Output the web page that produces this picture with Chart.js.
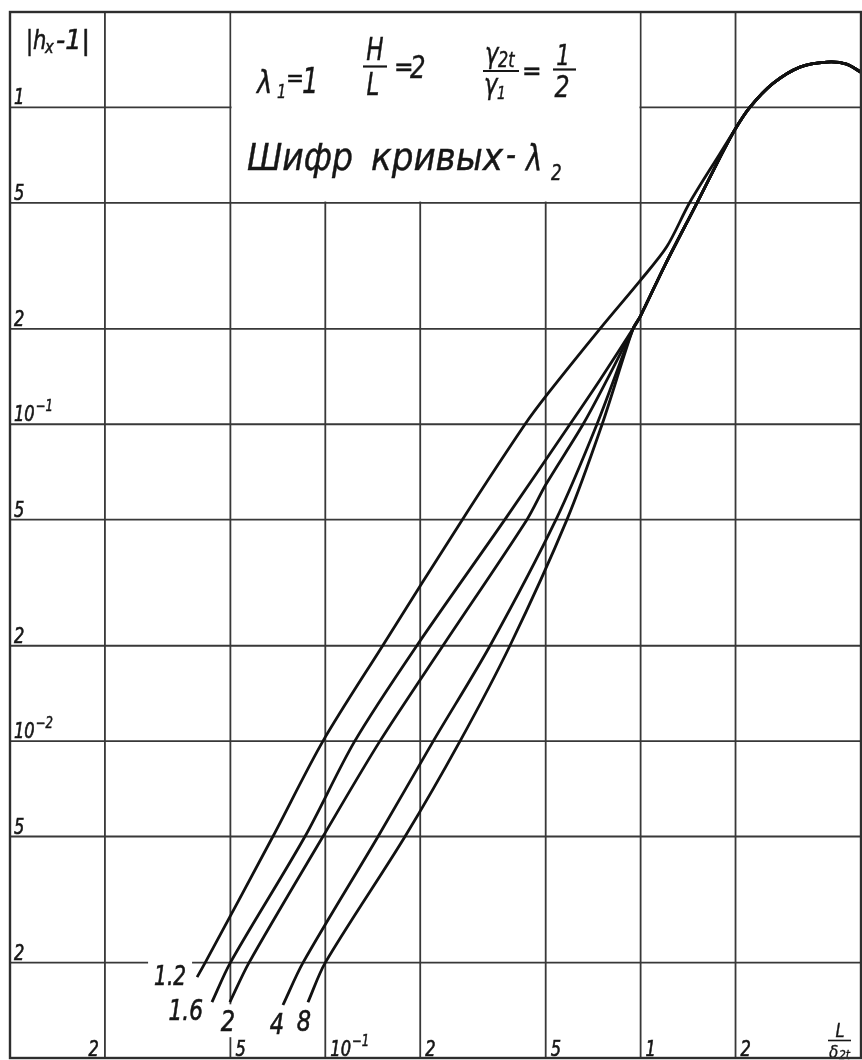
<!DOCTYPE html>
<html>
<head>
<meta charset="utf-8">
<script src="https://cdn.jsdelivr.net/npm/chart.js@4/dist/chart.umd.min.js"></script>
<style>
  html, body { margin: 0; padding: 0; background: #fff; }
  canvas { display: block; }
</style>
</head>
<body>
<canvas id="chart" width="862" height="1060"></canvas>
<script>
// Curve code: λ2
const curveCodes = ['1.2', '1.6', '2', '4', '8'];

// Lower branches, |h_x - 1| against L/δ2t, one pair of arrays per λ2
const lam12X = [0.0392, 0.0416, 0.0682, 0.0983, 0.152, 0.272, 0.43, 0.505, 0.743, 1.0, 1.21, 1.43, 1.79];
const lam12Y = [0.0018, 0.002, 0.005, 0.01, 0.02, 0.05, 0.1, 0.124, 0.2, 0.285, 0.363, 0.5, 0.718];
const lam16X = [0.0437, 0.05, 0.0862, 0.124, 0.195, 0.371, 0.597, 0.743, 0.946];
const lam16Y = [0.0015, 0.002, 0.005, 0.01, 0.02, 0.05, 0.1, 0.138, 0.2];
const lam2X = [0.0498, 0.0573, 0.0983, 0.149, 0.236, 0.436, 0.5, 0.657, 0.782, 0.946];
const lam2Y = [0.0015, 0.002, 0.005, 0.01, 0.02, 0.05, 0.0644, 0.1, 0.138, 0.2];
const lam4X = [0.0734, 0.085, 0.147, 0.22, 0.333, 0.539, 0.727, 0.946];
const lam4Y = [0.00147, 0.002, 0.005, 0.01, 0.02, 0.05, 0.1, 0.2];
const lam8X = [0.0881, 0.1, 0.179, 0.2675, 0.385, 0.584, 0.755, 0.946];
const lam8Y = [0.0015, 0.002, 0.005, 0.01, 0.02, 0.05, 0.1, 0.2];

// Shared stretch of λ2 = 1.6 … 8 once they meet
const bundleX = [1.0, 1.195, 1.51, 1.786];
const bundleY = [0.22, 0.318, 0.5, 0.695];

// Common upper part of all curves (maximum near L/δ2t ≈ 4)
const commonX = [1.99, 2.22, 2.63, 3.2, 3.9, 4.5, 5.0];
const commonY = [0.85, 1.0, 1.19, 1.34, 1.39, 1.37, 1.29];

// Grid lines and their labels
const xGrid = [0.02, 0.05, 0.1, 0.2, 0.5, 1, 2];
const xTickText = ['2', '5', '10^−1', '2', '5', '1', '2'];
const yGrid = [0.002, 0.005, 0.01, 0.02, 0.05, 0.1, 0.2, 0.5, 1];
const yTickText = ['2', '5', '10^−2', '2', '5', '10^−1', '2', '5', '1'];

const FONT = "'Liberation Sans Narrow','DejaVu Sans Condensed','Liberation Sans',sans-serif";
const font = (sz) => `italic ${sz}px ${FONT}`;
const INK = '#161616';
const NARROW = 0.86;

const pts = (xs, ys) => xs.map((v, i) => ({ x: v, y: ys[i] }));
const seriesData = [
  pts(lam12X, lam12Y).concat(pts(commonX, commonY)),
  pts(lam16X, lam16Y).concat(pts(bundleX, bundleY), pts(commonX, commonY)),
  pts(lam2X, lam2Y).concat(pts(bundleX, bundleY), pts(commonX, commonY)),
  pts(lam4X, lam4Y).concat(pts(bundleX, bundleY), pts(commonX, commonY)),
  pts(lam8X, lam8Y).concat(pts(bundleX, bundleY), pts(commonX, commonY)),
];

// Where each curve code is written, relative to the curve's lower end
const codeLabelStyle = [
  { dx: -11, dy: 8, align: 'right', size: 26 },
  { dx: -9, dy: 18, align: 'right', size: 28 },
  { dx: -2, dy: 29, align: 'center', size: 29 },
  { dx: -6, dy: 29, align: 'center', size: 29 },
  { dx: -4, dy: 29, align: 'center', size: 29 },
];

// text with a horizontal squeeze factor (or fitted to a given width) and a slight pen weight
function penText(ctx, txt, x, y, size, opt = {}) {
  ctx.font = font(size);
  const w = ctx.measureText(txt).width;
  const sx = opt.width ? opt.width / w : (opt.sx || 1);
  const ww = w * sx;
  let left = x;
  if (opt.align === 'right') left = x - ww;
  else if (opt.align === 'center') left = x - ww / 2;
  ctx.save();
  ctx.translate(left, y);
  ctx.scale(sx, 1);
  ctx.textAlign = 'left';
  ctx.textBaseline = 'alphabetic';
  ctx.fillText(txt, 0, 0);
  if (opt.weight) {
    ctx.lineWidth = opt.weight;
    ctx.strokeStyle = ctx.fillStyle;
    ctx.strokeText(txt, 0, 0);
  }
  ctx.restore();
  return ww;
}

function powWidth(ctx, txt, size) {
  const [b, e] = txt.split('^');
  ctx.font = font(size);
  let w = ctx.measureText(b).width;
  if (e) { ctx.font = font(size * 0.72); w += ctx.measureText(e).width + 1; }
  return w * NARROW;
}

function drawPow(ctx, txt, x, y, size) {
  const [b, e] = txt.split('^');
  const wb = penText(ctx, b, x, y, size, { sx: NARROW, weight: 0.6 });
  if (e) penText(ctx, e, x + wb + 1, y - size * 0.5, size * 0.72, { sx: NARROW, weight: 0.5 });
}

function drawTitle(ctx) {
  ctx.fillStyle = INK;
  ctx.strokeStyle = INK;
  const w = 0.4;
  // λ1 = 1
  penText(ctx, 'λ', 257, 93, 32, { sx: 0.9, weight: w });
  penText(ctx, '1', 277, 98, 19, { sx: 0.85, weight: w });
  penText(ctx, '=', 286, 86, 24, { weight: w });
  penText(ctx, '1', 302, 93, 36, { sx: 0.8, weight: w });
  // H / L = 2
  ctx.lineWidth = 2.2;
  penText(ctx, 'H', 375, 60, 32, { align: 'center', sx: 0.8, weight: w });
  penText(ctx, 'L', 373, 95, 32, { align: 'center', sx: 0.8, weight: w });
  ctx.beginPath(); ctx.moveTo(363, 66.5); ctx.lineTo(387, 66.5); ctx.stroke();
  penText(ctx, '=', 394, 76, 26, { weight: w });
  penText(ctx, '2', 410, 78, 32, { sx: 0.85, weight: w });
  // γ2t / γ1 = 1/2
  penText(ctx, 'γ', 485, 63, 28, { sx: 0.9, weight: w });
  penText(ctx, '2t', 498, 67, 21, { sx: 0.85, weight: w });
  ctx.lineWidth = 2.2;
  ctx.beginPath(); ctx.moveTo(483, 71); ctx.lineTo(519, 71); ctx.stroke();
  penText(ctx, 'γ', 484, 94, 28, { sx: 0.9, weight: w });
  penText(ctx, '1', 497, 99, 18, { sx: 0.85, weight: w });
  penText(ctx, '=', 522, 80, 26, { weight: w });
  penText(ctx, '1', 563, 65, 28, { align: 'center', sx: 0.85, weight: w });
  penText(ctx, '2', 562, 97, 31, { align: 'center', sx: 0.85, weight: w });
  ctx.lineWidth = 2.2;
  ctx.beginPath(); ctx.moveTo(553, 69.5); ctx.lineTo(576, 69.5); ctx.stroke();
  // Шифр кривых – λ2
  penText(ctx, 'Шифр', 247, 170, 38, { width: 106, weight: w });
  penText(ctx, 'кривых', 371, 170, 38, { width: 132, weight: w });
  penText(ctx, '-', 506, 166, 34, { width: 10, weight: w });
  penText(ctx, 'λ', 526, 170, 36, { sx: 0.85, weight: w });
  penText(ctx, '2', 551, 180, 22, { sx: 0.85, weight: w });
}

const sheet = {
  id: 'sheet',
  beforeDatasetsDraw(chart) {
    const { ctx, chartArea: a, scales: { x, y } } = chart;
    ctx.save();
    ctx.lineCap = 'butt';
    ctx.strokeStyle = '#383838';
    ctx.lineWidth = 1.8;
    ctx.beginPath();
    xGrid.forEach(v => {
      const px = x.getPixelForValue(v);
      ctx.moveTo(px, a.top); ctx.lineTo(px, a.bottom);
    });
    yGrid.forEach(v => {
      const py = y.getPixelForValue(v);
      ctx.moveTo(a.left, py); ctx.lineTo(a.right, py);
    });
    ctx.stroke();

    // blank field for the parameter note
    const bl = x.getPixelForValue(0.05), br = x.getPixelForValue(1), bb = y.getPixelForValue(0.5);
    ctx.fillStyle = '#fff';
    ctx.fillRect(bl + 1.2, a.top + 1, br - bl - 2.4, bb - a.top - 2.2);

    // curve codes at the lower ends
    seriesData.forEach((d, i) => {
      const st = codeLabelStyle[i];
      const px = x.getPixelForValue(d[0].x) + st.dx;
      const py = y.getPixelForValue(d[0].y) + st.dy;
      ctx.font = font(st.size);
      const w = ctx.measureText(curveCodes[i]).width * NARROW;
      const left = st.align === 'right' ? px - w : px - w / 2;
      ctx.fillStyle = '#fff';
      ctx.fillRect(left - 6, py - st.size * 0.72 - 6, w + 12, st.size * 0.72 + 12);
      ctx.fillStyle = INK;
      penText(ctx, curveCodes[i], left, py, st.size, { sx: NARROW, weight: 0.6 });
    });

    // tick labels written inside the grid
    ctx.fillStyle = INK;
    yGrid.forEach((v, i) => {
      drawPow(ctx, yTickText[i], a.left + 4, y.getPixelForValue(v) - 3, 21);
    });
    xGrid.forEach((v, i) => {
      const px = x.getPixelForValue(v);
      const w = powWidth(ctx, xTickText[i], 21);
      const left = i === 0 ? px - 6 - w : px + 5;
      drawPow(ctx, xTickText[i], left, a.bottom - 2, 21);
    });

    // axis names
    penText(ctx, '|h', 26, 49, 26, { sx: 0.9, weight: 0.5 });
    penText(ctx, 'x', 45, 53, 18, { sx: 0.9, weight: 0.5 });
    penText(ctx, '-1|', 56, 49, 26, { width: 34, weight: 0.5 });
    penText(ctx, 'L', 840, 1037, 20, { align: 'center', sx: 0.9, weight: 0.4 });
    ctx.strokeStyle = INK; ctx.lineWidth = 1.6;
    ctx.beginPath(); ctx.moveTo(828, 1040.5); ctx.lineTo(851, 1040.5); ctx.stroke();
    penText(ctx, 'δ', 829, 1058, 17, { weight: 0.3 });
    penText(ctx, '2t', 839, 1059, 12, { weight: 0.3 });

    drawTitle(ctx);
    ctx.restore();
  },
  afterDatasetsDraw(chart) {
    const { ctx, chartArea: a } = chart;
    ctx.save();
    ctx.strokeStyle = '#2e2e2e';
    ctx.lineWidth = 2.4;
    ctx.strokeRect(a.left, a.top, a.right - a.left, a.bottom - a.top);
    ctx.restore();
  }
};

new Chart(document.getElementById('chart'), {
  type: 'line',
  data: {
    datasets: seriesData.map((d, i) => ({
      label: curveCodes[i],
      data: d,
      borderColor: '#111',
      borderWidth: 2.8,
      pointRadius: 0,
      fill: false,
      tension: 0.3,
    })),
  },
  options: {
    responsive: false,
    animation: false,
    devicePixelRatio: 1,
    layout: { padding: { left: 10, top: 12, right: 1, bottom: 2 } },
    plugins: { legend: { display: false }, tooltip: { enabled: false } },
    scales: {
      x: { type: 'logarithmic', min: 0.01, max: 5, display: false },
      y: { type: 'logarithmic', min: 0.001, max: 2, display: false },
    },
  },
  plugins: [sheet],
});
</script>
</body>
</html>
